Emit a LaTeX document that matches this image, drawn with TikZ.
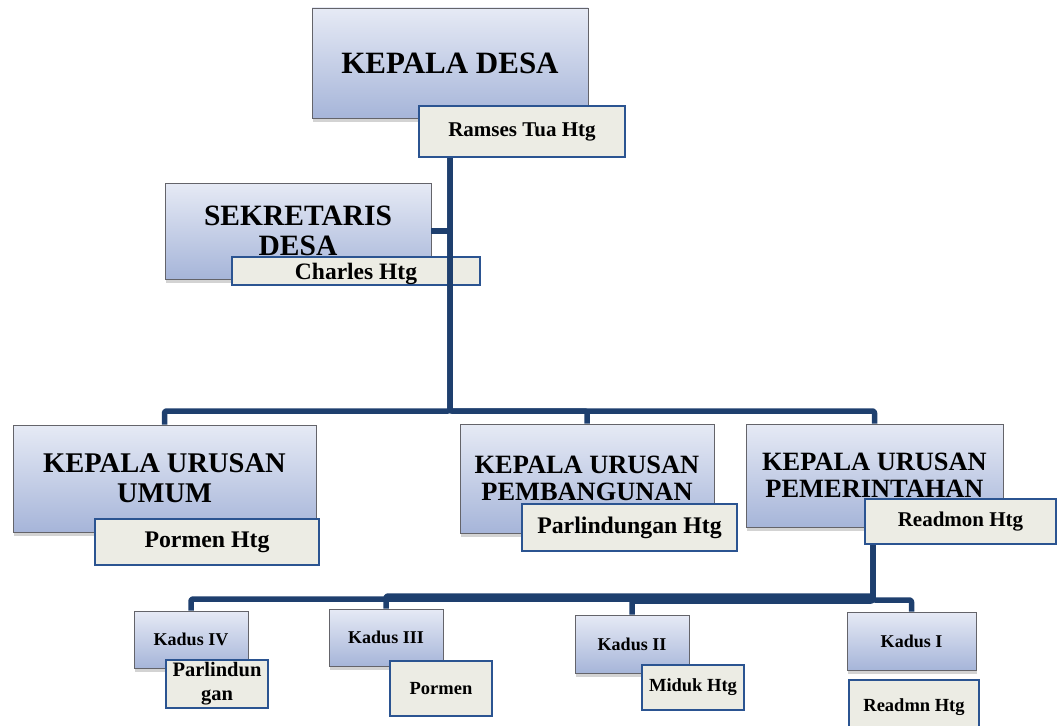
\documentclass[tikz,border=0pt]{standalone}
\usepackage{fontspec}
\setmainfont{Liberation Serif}
\usetikzlibrary{shadows}
\definecolor{gtop}{RGB}{230,234,245}
\definecolor{gbot}{RGB}{166,181,217}
\definecolor{boxline}{RGB}{100,100,106}
\definecolor{namefill}{RGB}{236,236,228}
\definecolor{nameline}{RGB}{43,84,145}
\definecolor{navy}{RGB}{30,63,110}
\tikzset{
  mainbox/.style={draw=boxline, line width=0.8pt, top color=gtop, bottom color=gbot,
    drop shadow={shadow xshift=0.5pt, shadow yshift=-3.5pt, opacity=0.35},
    inner sep=0pt, align=center, text=black},
  namebox/.style={draw=nameline, line width=1.8pt, fill=namefill,
    inner sep=0pt, align=center, text=black},
  conn/.style={draw=navy, line width=5.5pt, rounded corners=2pt, line join=round}
}
\newcommand{\fsz}[2]{\fontsize{#1}{#2}\selectfont\bfseries}
\begin{document}
\begin{tikzpicture}[x=1pt, y=-1pt]
\useasboundingbox (0,0) rectangle (1059,725);
\clip (0,0) rectangle (1059,725);

% upper level boxes
\node[mainbox, minimum width=276, minimum height=110, font=\fsz{31}{32}] (kd) at (450,63) {KEPALA DESA};
\node[mainbox, minimum width=266, minimum height=96, font=\fsz{29.5}{30}] (sd) at (298,231) {SEKRETARIS\\DESA};
\node[mainbox, minimum width=303, minimum height=107, font=\fsz{28.5}{30}] (ku) at (164.5,478.5) {KEPALA URUSAN\\UMUM};
\node[mainbox, minimum width=254, minimum height=109, font=\fsz{26.4}{27}] (kp) at (587,478.5) {KEPALA URUSAN\\PEMBANGUNAN};
\node[mainbox, minimum width=257, minimum height=103, font=\fsz{26.4}{27}] (km) at (874.5,475.5) {KEPALA URUSAN\\PEMERINTAHAN};

% hamlet heads
\node[mainbox, minimum width=114, minimum height=57, font=\fsz{18}{20}] (k4) at (191,639.5) {Kadus IV};
\node[mainbox, minimum width=114, minimum height=57, font=\fsz{18}{20}] (k3) at (386,637.5) {Kadus III};
\node[mainbox, minimum width=114, minimum height=58, font=\fsz{18}{20}] (k2) at (632,644) {Kadus II};
\node[mainbox, minimum width=129, minimum height=58, font=\fsz{18}{20}] (k1) at (911.5,641) {Kadus I};

% secretary name plate lies under the trunk line
\node[namebox, minimum width=248, minimum height=28, text depth=0pt, font=\fsz{23.5}{25}] (sdn) at (356,271) {Charles Htg};

% connectors
\coordinate (bus) at (0,411);
\draw[conn] (kd.south) -- (kd.south |- bus) -| (ku.north);
\draw[conn] (kd.south) -- (kd.south |- bus) -| (kp.north);
\draw[conn] (kd.south) -- (kd.south |- bus) -| (km.north);
\draw[conn, rounded corners=0pt] (sd.east) -- (sd.east -| kd.south);

\coordinate (e4) at (0,599);
\coordinate (e3) at (0,596);
\coordinate (e2) at (0,601);
\coordinate (e1) at (0,600);
\coordinate (drop) at (873,0);
\draw[conn] (km.south -| drop) -- (drop |- e4) -| (k4.north);
\draw[conn] (km.south -| drop) -- (drop |- e3) -| (k3.north);
\draw[conn] (km.south -| drop) -- (drop |- e2) -| (k2.north);
\draw[conn] (km.south -| drop) -- (drop |- e1) -| (k1.north);

% name plates
\node[namebox, minimum width=206, minimum height=51, font=\fsz{21}{23}] (kdn) at (522,131.5) {Ramses Tua Htg};
\node[namebox, minimum width=224, minimum height=46, font=\fsz{23.8}{25}] (kun) at (207,542) {Pormen Htg};
\node[namebox, minimum width=215, minimum height=47, font=\fsz{23.8}{25}] (kpn) at (629.5,527.5) {Parlindungan Htg};
\node[namebox, minimum width=191, minimum height=45, font=\fsz{21}{23}] (kmn) at (960.5,521.5) {Readmon Htg};

\node[namebox, minimum width=102, minimum height=48, font=\fsz{20.5}{24}] (k4n) at (217,684) {Parlindun\\gan};
\node[namebox, minimum width=102, minimum height=55, font=\fsz{18.5}{20}] (k3n) at (441,688.5) {Pormen};
\node[namebox, minimum width=102, minimum height=45, font=\fsz{18.5}{20}] (k2n) at (693,687.5) {Miduk Htg};
\node[namebox, minimum width=130, minimum height=60, text depth=10pt, font=\fsz{18.5}{20}] (k1n) at (914,710) {Readmn Htg};
\end{tikzpicture}
\end{document}
